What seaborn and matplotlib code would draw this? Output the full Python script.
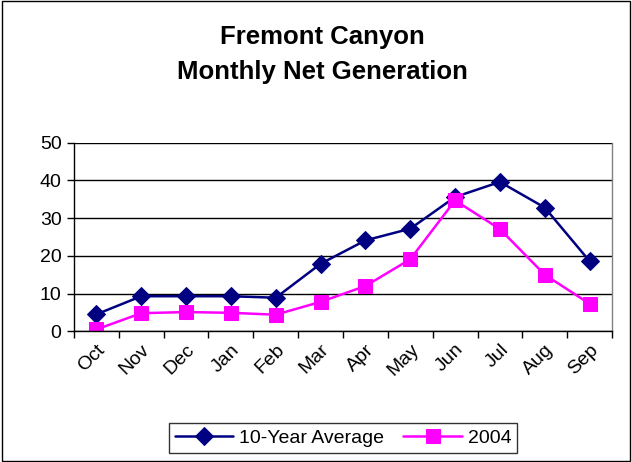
import matplotlib
matplotlib.use("Agg")
import matplotlib.pyplot as plt
import seaborn as sns
import pandas as pd
import numpy as np
from matplotlib.patches import Rectangle

months = ["Oct", "Nov", "Dec", "Jan", "Feb", "Mar", "Apr", "May", "Jun", "Jul", "Aug", "Sep"]
avg_10yr = [4.5, 9.3, 9.3, 9.3, 8.9, 17.9, 24.1, 27.2, 35.6, 39.6, 32.8, 18.6]
gen_2004 = [0.5, 4.8, 5.1, 4.9, 4.4, 7.8, 12.0, 19.1, 34.7, 27.1, 15.0, 7.3]
series_names = ["10-Year Average", "2004"]
yticks = [0, 10, 20, 30, 40, 50]

df = pd.DataFrame({
    "pos": list(range(len(months))) * 2,
    "value": avg_10yr + gen_2004,
    "series": [series_names[0]] * len(months) + [series_names[1]] * len(months),
})

sns.set_theme(style="white")
plt.rcParams["font.family"] = ["Liberation Sans", "DejaVu Sans"]
plt.rcParams["text.color"] = "black"
plt.rcParams["xtick.color"] = "black"
plt.rcParams["ytick.color"] = "black"

fig = plt.figure(figsize=(6.32, 4.62), dpi=100)
ax = fig.add_axes([74 / 632, 1 - 331.3 / 462, (612 - 74) / 632, (331.3 - 142.7) / 462])

palette = {series_names[0]: "#000080", series_names[1]: "#FF00FF"}
markers = {series_names[0]: "D", series_names[1]: "s"}
sizes_m = {series_names[0]: 9, series_names[1]: 10.5}
for name in series_names:
    sub = df[df["series"] == name]
    sns.lineplot(data=sub, x="pos", y="value", ax=ax, color=palette[name],
                 marker=markers[name], markersize=sizes_m[name], markeredgecolor=palette[name],
                 linewidth=1.8, label=name, legend=False)

ax.set_xlim(-0.5, len(months) - 0.5)
ax.set_ylim(0, 50)
ax.set_yticks(yticks)
ax.set_yticklabels([str(v) for v in yticks], fontsize=14)
ax.set_xticks(range(len(months)))
ax.set_xticklabels(months, rotation=45, ha="right", rotation_mode="anchor", fontsize=14)
ax.set_xticks(np.arange(-0.5, len(months), 1.0), minor=True)
ax.tick_params(axis="x", which="major", length=0, pad=7)
ax.tick_params(axis="x", which="minor", length=5, width=1, color="black", direction="out", bottom=True)
ax.tick_params(axis="y", length=5, width=1, color="black", direction="out", left=True, pad=4)
ax.set_xlabel("")
ax.set_ylabel("")
ax.grid(axis="y", color="black", linewidth=1)
ax.set_axisbelow(True)
for s in ["left", "bottom"]:
    ax.spines[s].set_color("black")
    ax.spines[s].set_linewidth(1)
ax.spines["top"].set_visible(False)
ax.spines["right"].set_color("#808080")
ax.spines["right"].set_linewidth(1)

fig.text(322 / 632, 1 - 37 / 462, "Fremont Canyon", ha="center", va="center",
         fontsize=18.5, fontweight="bold")
fig.text(322 / 632, 1 - 72 / 462, "Monthly Net Generation", ha="center", va="center",
         fontsize=18.5, fontweight="bold")

handles, labels = ax.get_legend_handles_labels()
leg = fig.legend(handles, labels, loc="center", bbox_to_anchor=(343 / 632, 1 - 438 / 462),
                 ncol=2, fontsize=14, frameon=True, fancybox=False, handlelength=3,
                 columnspacing=1.0, handletextpad=0.3, borderpad=0.3)
leg.get_frame().set_edgecolor("black")
leg.get_frame().set_linewidth(1)

fig.patches.append(Rectangle((0.003, 0.003), 0.994, 0.994, transform=fig.transFigure,
                             fill=False, edgecolor="black", linewidth=1))

fig.savefig("out.png", dpi=100)
